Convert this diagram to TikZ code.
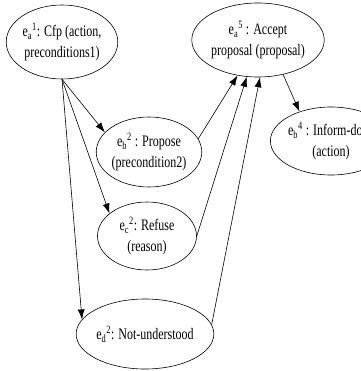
\documentclass[tikz,border=0pt]{standalone}
\usepackage{fontspec}
\newfontfamily\statefont[FakeStretch=0.75]{Liberation Serif}
\usetikzlibrary{shapes,arrows.meta}

\begin{document}
\begin{tikzpicture}[x=1pt, y=-1pt, line width=0.6pt,
    every node/.style={draw, ellipse, inner sep=0pt, align=center,
      font=\statefont\fontsize{16}{21}\selectfont},
    msg/.style={-{Latex[length=10pt, width=7pt]}}]
  \useasboundingbox (0,0) rectangle (360,371);

  % Initial state
  \node[minimum width=94pt, minimum height=74pt] (ea1) at (62,42)
    {e\textsubscript{a}\textsuperscript{1}: Cfp (action,\\preconditions1)};

  % Answers
  \node[minimum width=96pt, minimum height=70pt] (eb2) at (149,152)
    {e\textsubscript{b}\textsuperscript{2} : Propose\\(precondition2)};
  \node[minimum width=99pt, minimum height=68pt] (ec2) at (147,236)
    {e\textsubscript{c}\textsuperscript{2}: Refuse\\(reason)};
  \node[minimum width=102pt, minimum height=70pt] (ed2) at (145,334)
    {e\textsubscript{d}\textsuperscript{2}: Not-understood};

  % Final states
  \node[minimum width=96pt, minimum height=74pt] (ea5) at (258,40)
    {e\textsubscript{a}\textsuperscript{5} : Accept\\proposal (proposal)};
  \node[minimum width=96pt, minimum height=68pt] (eb4) at (331,141)
    {e\textsubscript{b}\textsuperscript{4} : Inform-done\\(action)};

  % Arrows
  \draw[msg] (ea1.south) -- (eb2.156);
  \draw[msg] (ea1.south) -- (ec2.149);
  \draw[msg] (ea1.south) -- (ed2.167);

  \draw[msg] (eb2.15) -- (ea5.240);
  \draw[msg] (ec2.east) -- (ea5.253);
  \draw[msg] (ed2.8) -- (ea5.273);

  \draw[msg] (ea5.306) -- (eb4.137);
\end{tikzpicture}
\end{document}
